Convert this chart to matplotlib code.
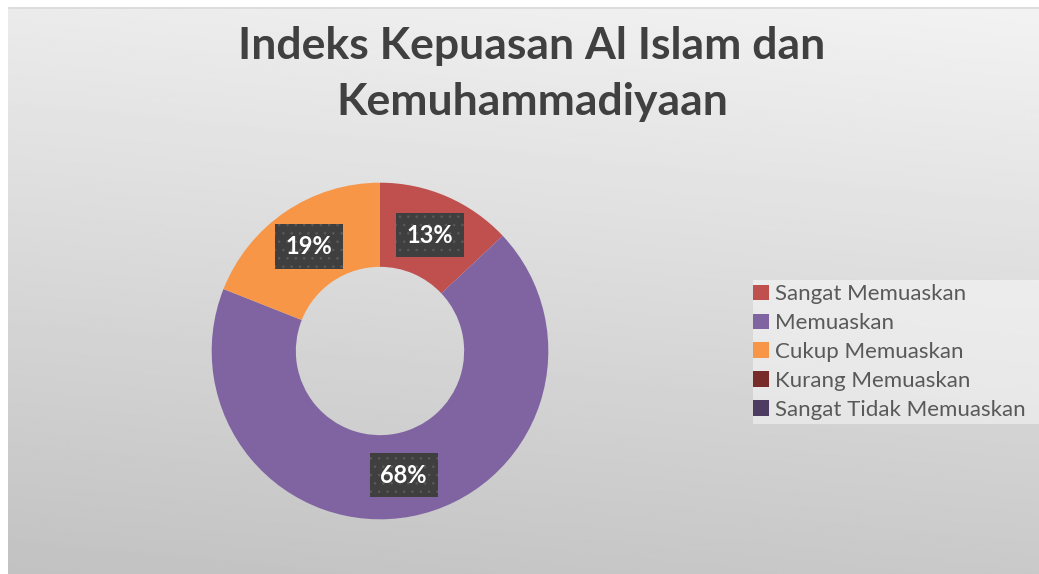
import numpy as np
import matplotlib.pyplot as plt
from matplotlib.patches import Rectangle

plt.rcParams['font.family'] = ['Lato', 'DejaVu Sans']
plt.rcParams['hatch.linewidth'] = 0.6

title = 'Indeks Kepuasan Al Islam dan\nKemuhammadiyaan'
categories = ['Sangat Memuaskan', 'Memuaskan', 'Cukup Memuaskan',
              'Kurang Memuaskan', 'Sangat Tidak Memuaskan']
values = [13, 68, 19, 0, 0]
colors = ['#C0504D', '#8064A2', '#F79646', '#772C2A', '#4D3B62']

W, H = 1039, 574
fig = plt.figure(figsize=(W / 100, H / 100), dpi=100)
fig.patch.set_facecolor('white')

# gradient background of chart area
bg = fig.add_axes([8 / W, 0, 1 - 8 / W, 1 - 7 / H])
bg.set_axis_off()
yy = np.linspace(0, 1, 200)[:, None]
xx = np.linspace(0, 1, 200)[None, :]
grad = 0.95 - 0.19 * (0.85 * yy + 0.15 * (1 - xx))
bg.imshow(grad, cmap='gray', vmin=0, vmax=1, aspect='auto',
          extent=[0, 1, 1, 0], interpolation='bilinear')
bg.set_xlim(0, 1)
bg.set_ylim(1, 0)
bg.axhline(0.002, color='#d9d9d9', lw=1.2)

fig.text(532 / W, 1 - 74 / H, title, ha='center', va='center',
         fontsize=32, fontweight='bold', color='#404040', linespacing=1.5)

# donut
ax = fig.add_axes([210 / W, 53 / H, 340 / W, 340 / H])
wedges, _, autotexts = ax.pie(values, colors=colors, startangle=90,
                              counterclock=False, radius=1,
                              autopct=lambda p: f'{p:.0f}%' if p > 0 else '',
                              pctdistance=0.75,
                              wedgeprops=dict(width=0.5, linewidth=0))
for t in autotexts:
    t.set_color('white')
    t.set_fontsize(17)
    t.set_fontweight('bold')
    t.set_bbox(dict(boxstyle='square,pad=0.45', facecolor='#3f3f3f',
                    edgecolor='#5a5a5a', linewidth=0, hatch='..'))
ax.set_aspect('equal')
ax.set_xlim(-1.01, 1.01)
ax.set_ylim(-1.01, 1.01)

# legend
lg = fig.add_axes([753 / W, 1 - 424 / H, (W - 753) / W, 144 / H])
lg.set_axis_off()
lg.add_patch(Rectangle((0, 0), 1, 1, transform=lg.transAxes,
                       facecolor='white', alpha=0.45, linewidth=0))
lg.legend(wedges, categories, loc='center left', frameon=False,
          fontsize=16, labelcolor='#595959', handlelength=0.7,
          handleheight=0.7, handletextpad=0.3, labelspacing=0.4,
          borderaxespad=0.0, borderpad=0.0)

fig.savefig('out.png', dpi=100)
